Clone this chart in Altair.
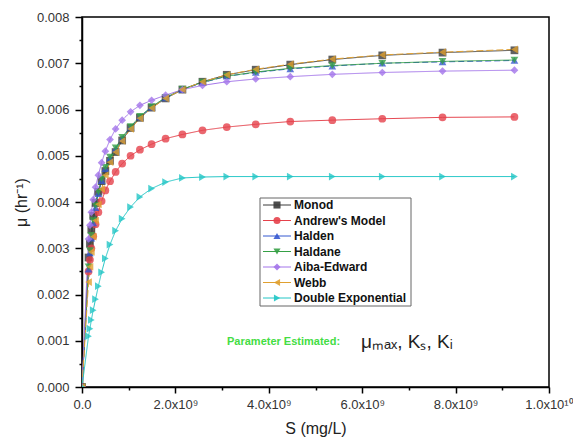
import altair as alt
import pandas as pd

# ---------------- data ----------------
S_values = [0, 0.14e9, 0.17e9, 0.20e9, 0.24e9, 0.29e9, 0.35e9, 0.42e9, 0.50e9, 0.60e9,
            0.72e9, 0.86e9, 1.04e9, 1.24e9, 1.49e9, 1.79e9, 2.15e9, 2.58e9, 3.10e9,
            3.72e9, 4.46e9, 5.36e9, 6.43e9, 7.72e9, 9.26e9]

mu_monod = [0, 2.80, 3.10, 3.40, 3.70, 3.98, 4.22, 4.45, 4.67, 4.89, 5.08, 5.33, 5.60,
            5.82, 6.04, 6.24, 6.43, 6.60, 6.75, 6.86, 6.97, 7.08, 7.17, 7.23, 7.28]
mu_andrews = [0, 2.50, 2.75, 3.00, 3.26, 3.52, 3.78, 4.02, 4.25, 4.45, 4.65, 4.83, 5.00,
              5.13, 5.25, 5.37, 5.46, 5.55, 5.62, 5.68, 5.74, 5.77, 5.80, 5.83, 5.84]
mu_halden = [0, 2.55, 2.90, 3.22, 3.55, 3.88, 4.18, 4.46, 4.72, 4.95, 5.15, 5.38, 5.62,
             5.84, 6.05, 6.25, 6.43, 6.58, 6.72, 6.80, 6.88, 6.94, 7.00, 7.03, 7.06]
mu_haldane = [0, 2.60, 2.95, 3.28, 3.60, 3.92, 4.22, 4.50, 4.75, 4.97, 5.17, 5.40, 5.63,
              5.85, 6.06, 6.26, 6.44, 6.59, 6.72, 6.81, 6.89, 6.95, 7.00, 7.04, 7.07]
mu_aiba = [0, 3.20, 3.50, 3.78, 4.05, 4.32, 4.58, 4.85, 5.10, 5.35, 5.58, 5.77, 5.95,
           6.09, 6.20, 6.31, 6.43, 6.52, 6.60, 6.66, 6.71, 6.76, 6.80, 6.83, 6.85]
mu_webb = [0, 2.27, 2.60, 2.92, 3.25, 3.60, 3.95, 4.28, 4.58, 4.86, 5.08, 5.32, 5.58,
           5.81, 6.03, 6.24, 6.43, 6.60, 6.75, 6.87, 6.98, 7.09, 7.18, 7.24, 7.30]
mu_double_exp = [0, 1.10, 1.26, 1.45, 1.66, 1.90, 2.18, 2.48, 2.78, 3.08, 3.38, 3.64, 3.89,
                 4.11, 4.29, 4.43, 4.52, 4.54, 4.55, 4.55, 4.55, 4.55, 4.55, 4.55, 4.55]

series_names = ["Monod", "Andrew's Model", "Halden", "Haldane", "Aiba-Edward", "Webb",
                "Double Exponential"]
series_values = [mu_monod, mu_andrews, mu_halden, mu_haldane, mu_aiba, mu_webb, mu_double_exp]
series_colors = ["#3a3a3a", "#e5414b", "#3558d0", "#35a045", "#a374ea", "#e0a030", "#22c6c6"]
series_shapes = ["square", "circle", "triangle-up", "triangle-down", "diamond",
                 "triangle-left", "triangle-right"]
series_dashes = [[1, 0], [1, 0], [6, 3], [1, 0], [1, 0], [7, 3], [1, 0]]

x_ticks = [0, 2e9, 4e9, 6e9, 8e9, 1e10]
x_tick_labels = ["0.0", "2.0x10⁹", "4.0x10⁹", "6.0x10⁹", "8.0x10⁹", "1.0x10¹⁰"]
x_minor = [1e9, 3e9, 5e9, 7e9, 9e9]
y_ticks = [0, 0.001, 0.002, 0.003, 0.004, 0.005, 0.006, 0.007, 0.008]
y_minor = [0.0005, 0.0015, 0.0025, 0.0035, 0.0045, 0.0055, 0.0065, 0.0075]

# ---------------- tables ----------------
rows = []
for name, vals in zip(series_names, series_values):
    for s, m in zip(S_values, vals):
        rows.append({"S": s, "mu": m * 1e-3, "model": name})
df = pd.DataFrame(rows)
leg_df = pd.DataFrame({"model": series_names})

FONT = "Liberation Sans"

x_scale = alt.Scale(domain=[0, 1e10], nice=False, zero=False)
y_scale = alt.Scale(domain=[0, 0.008], nice=False, zero=False)
color_scale = alt.Scale(domain=series_names, range=series_colors)
shape_scale = alt.Scale(domain=series_names, range=series_shapes)
dash_scale = alt.Scale(domain=series_names, range=series_dashes)

x_label_expr = " : ".join(
    f"datum.value == {v} ? '{l}'" for v, l in zip(x_ticks, x_tick_labels)) + " : ''"

lines = alt.Chart(df).mark_line(strokeWidth=1, clip=True).encode(
    x=alt.X("S:Q", scale=x_scale,
            axis=alt.Axis(values=x_ticks, labelExpr=x_label_expr, title="S (mg/L)",
                          orient="bottom", tickSize=6, labelPadding=5, titlePadding=9,
                          labelFlush=False, labelOverlap=False, grid=False)),
    y=alt.Y("mu:Q", scale=y_scale,
            axis=alt.Axis(values=y_ticks, format=".3f", title="μ (hr⁻¹)", orient="left",
                          tickSize=7, labelPadding=6, titlePadding=7, labelFlush=False,
                          labelOverlap=False, grid=False)),
    color=alt.Color("model:N", scale=color_scale, legend=None),
    strokeDash=alt.StrokeDash("model:N", scale=dash_scale, legend=None),
)

points = alt.Chart(df).mark_point(filled=True, size=60, opacity=0.8, clip=True).encode(
    x=alt.X("S:Q", scale=x_scale,
            axis=alt.Axis(values=x_minor, labels=False, domain=False, tickSize=3,
                          title=None, orient="bottom", grid=False)),
    y=alt.Y("mu:Q", scale=y_scale,
            axis=alt.Axis(values=y_minor, labels=False, domain=False, tickSize=3,
                          title=None, orient="left", grid=False)),
    color=alt.Color("model:N", scale=color_scale, legend=None),
    shape=alt.Shape("model:N", scale=shape_scale, legend=None),
)

# ---------------- hand-made legend ----------------
leg_y = alt.Y("model:N", axis=None,
              scale=alt.Scale(type="point", domain=series_names, range=[188, 281], padding=0))

box = alt.Chart(pd.DataFrame({"a": [0]})).mark_rect(
    fill="white", stroke="#666666", strokeWidth=1).encode(
    x=alt.value(178), x2=alt.value(329), y=alt.value(181), y2=alt.value(289))

leg_rule = alt.Chart(leg_df).mark_rule(strokeWidth=1).encode(
    x=alt.value(181), x2=alt.value(209), y=leg_y,
    color=alt.Color("model:N", scale=color_scale, legend=None))

leg_pts = alt.Chart(leg_df).mark_point(filled=True, size=50, opacity=0.9).encode(
    x=alt.value(195), y=leg_y,
    color=alt.Color("model:N", scale=color_scale, legend=None),
    shape=alt.Shape("model:N", scale=shape_scale, legend=None))

leg_txt = alt.Chart(leg_df).mark_text(
    align="left", baseline="middle", font=FONT, fontSize=12, fontWeight="bold",
    color="#111111").encode(x=alt.value(212), y=leg_y, text="model:N")

# ---------------- annotation ----------------
ann1 = alt.Chart(pd.DataFrame({"t": ["Parameter Estimated:"]})).mark_text(
    align="left", baseline="alphabetic", font=FONT, fontSize=11, fontWeight="bold",
    color="#44dd44").encode(x=alt.value(145), y=alt.value(328), text="t:N")

ann2 = alt.Chart(pd.DataFrame({"t": ["μₘₐₓ, Kₛ, Kᵢ"]})).mark_text(
    align="left", baseline="alphabetic", font=FONT, fontSize=19,
    color="#222222").encode(x=alt.value(279), y=alt.value(331), text="t:N")

chart = alt.layer(lines, points, box, leg_rule, leg_pts, leg_txt, ann1, ann2).resolve_scale(
    y="independent").resolve_axis(x="independent", y="independent").properties(
    width=467, height=370,
    padding={"left": 74, "top": 9, "right": 24, "bottom": 53},
    autosize=alt.AutoSizeParams(type="none"),
    background="white",
).configure_view(stroke="#000000", strokeWidth=1.5).configure_axis(
    labelFont=FONT, labelFontSize=13, labelColor="#333333",
    titleFont=FONT, titleFontSize=16, titleFontWeight="normal", titleColor="#222222",
    domainColor="#000000", domainWidth=1.5, tickColor="#000000", tickWidth=1.5,
)

chart.save("out.html", embed_options={"renderer": "svg", "actions": False})
